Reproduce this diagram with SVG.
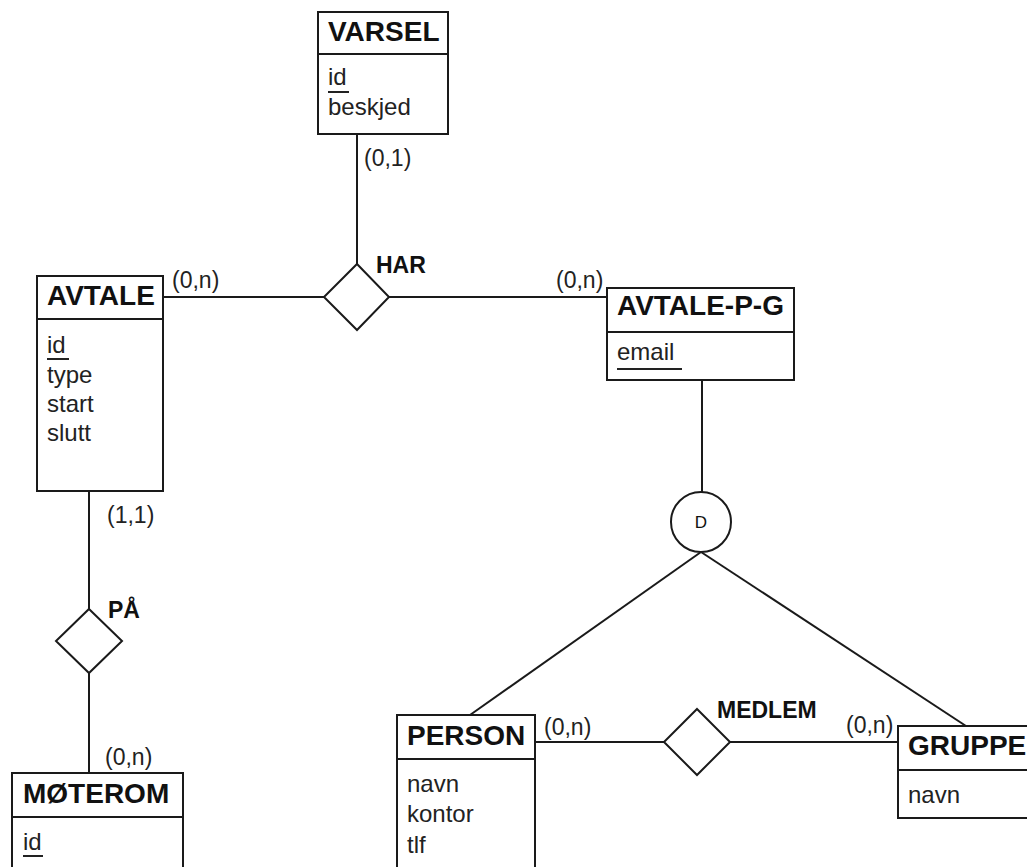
<svg xmlns="http://www.w3.org/2000/svg" width="1027" height="867" viewBox="0 0 1027 867">
<style>
.box{fill:#fff;stroke:#1a1a1a;stroke-width:2}
.ln{stroke:#1a1a1a;stroke-width:2;fill:none}
.t{font-family:"Liberation Sans",Arial,sans-serif;font-weight:bold;font-size:28px;fill:#111}
.a{font-family:"Liberation Sans",Arial,sans-serif;font-size:24px;fill:#222}
.c{font-family:"Liberation Sans",Arial,sans-serif;font-size:23px;fill:#222}
.r{font-family:"Liberation Sans",Arial,sans-serif;font-weight:bold;font-size:23px;fill:#111}
.u{stroke:#222;stroke-width:2}
</style>
<rect width="1027" height="867" fill="#fff"/>
<g id="connectors">
<line class="ln" x1="357" y1="134" x2="357" y2="264"/>
<line class="ln" x1="163" y1="297" x2="324" y2="297"/>
<line class="ln" x1="389" y1="297" x2="607" y2="297"/>
<line class="ln" x1="702" y1="380" x2="702" y2="492"/>
<line class="ln" x1="701" y1="552" x2="470" y2="715"/>
<line class="ln" x1="701" y1="552" x2="966" y2="726"/>
<line class="ln" x1="535" y1="742" x2="665" y2="742"/>
<line class="ln" x1="730" y1="742" x2="898" y2="742"/>
<line class="ln" x1="89" y1="491" x2="89" y2="609"/>
<line class="ln" x1="89" y1="673" x2="89" y2="773"/>
<text class="c" x="364" y="166">(0,1)</text>
<text class="c" x="172" y="288">(0,n)</text>
<text class="c" x="556" y="288">(0,n)</text>
<text class="c" x="107" y="523">(1,1)</text>
<text class="c" x="105" y="765">(0,n)</text>
<text class="c" x="544" y="735">(0,n)</text>
<text class="c" x="846" y="733">(0,n)</text>
</g>
<g id="varsel">
<rect class="box" x="318" y="12" width="130" height="122"/>
<line class="ln" x1="318" y1="54" x2="448" y2="54"/>
<text class="t" x="328" y="41">VARSEL</text>
<text class="a" x="328" y="85">id</text>
<line class="u" x1="328" y1="92" x2="349" y2="92"/>
<text class="a" x="328" y="115">beskjed</text>
</g>
<g id="har">
<polygon class="box" points="357,264 389,297 357,330 324,297"/>
<text class="r" x="376" y="273">HAR</text>
</g>
<g id="avtale">
<rect class="box" x="37" y="276" width="126" height="215"/>
<line class="ln" x1="37" y1="319" x2="163" y2="319"/>
<text class="t" x="47" y="305">AVTALE</text>
<text class="a" x="47" y="353">id</text>
<line class="u" x1="47" y1="359" x2="69" y2="359"/>
<text class="a" x="47" y="383">type</text>
<text class="a" x="47" y="412">start</text>
<text class="a" x="47" y="441">slutt</text>
</g>
<g id="avtale-p-g">
<rect class="box" x="607" y="288" width="187" height="92"/>
<line class="ln" x1="607" y1="332" x2="794" y2="332"/>
<text class="t" x="617" y="315">AVTALE-P-G</text>
<text class="a" x="617" y="360">email</text>
<line class="u" x1="617" y1="369" x2="682" y2="369"/>
</g>
<g id="disjoint">
<circle class="box" cx="701" cy="522" r="30"/>
<text x="701" y="528" text-anchor="middle" style="font-family:'Liberation Sans',Arial,sans-serif;font-size:17px;fill:#111">D</text>
</g>
<g id="pa">
<polygon class="box" points="89,609 122,641 89,673 56,641"/>
<text class="r" x="108" y="618">PÅ</text>
</g>
<g id="moterom">
<rect class="box" x="12" y="773" width="171" height="110"/>
<line class="ln" x1="12" y1="817" x2="183" y2="817"/>
<text class="t" x="23" y="803">MØTEROM</text>
<text class="a" x="23" y="850">id</text>
<line class="u" x1="23" y1="856" x2="43" y2="856"/>
</g>
<g id="person">
<rect class="box" x="397" y="715" width="138" height="170"/>
<line class="ln" x1="397" y1="759" x2="535" y2="759"/>
<text class="t" x="407" y="745">PERSON</text>
<text class="a" x="407" y="792">navn</text>
<text class="a" x="407" y="822">kontor</text>
<text class="a" x="407" y="853">tlf</text>
</g>
<g id="medlem">
<polygon class="box" points="697,709 730,742 697,775 664,742"/>
<text class="r" x="717" y="718">MEDLEM</text>
</g>
<g id="gruppe">
<rect class="box" x="898" y="726" width="140" height="92"/>
<line class="ln" x1="898" y1="770" x2="1038" y2="770"/>
<text class="t" x="908" y="755">GRUPPE</text>
<text class="a" x="908" y="803">navn</text>
</g>
</svg>
